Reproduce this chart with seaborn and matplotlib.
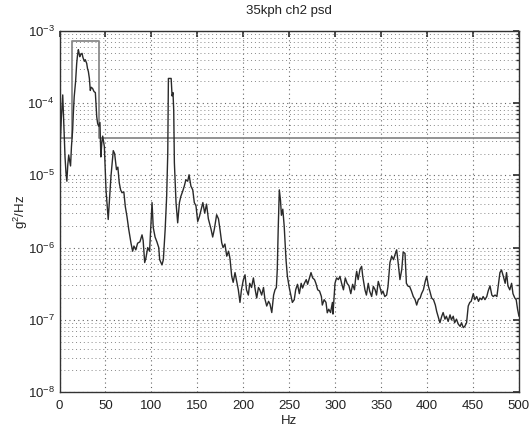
import matplotlib
matplotlib.use("Agg")
import matplotlib.pyplot as plt
import seaborn as sns
import pandas as pd
from matplotlib.ticker import LogLocator, NullFormatter

# ---- data ----
freq_hz = [1, 2, 3.5, 5, 6, 7, 8, 9, 10, 11, 12, 13, 14.3, 15, 16, 17.5, 18.7, 19.5, 20.5, 21.2,
           22, 23, 24.5, 25.5, 27, 28, 29.6, 30.5, 31.4, 32.5, 33.5, 34.5, 36, 37.5, 39, 40.5, 41.5,
           42.6, 44, 45, 46, 47, 48.8, 50.6, 52, 53, 54.5, 56, 57.5, 58.5, 60, 62, 63.5, 65, 66.5,
           68, 70, 71.6, 73.4, 75.3, 77.8, 79.6, 81, 83, 85, 87.5, 89.8, 91, 92.7, 94, 96, 98, 99.6,
           100.7, 102, 104, 106, 108, 109, 111.5, 113, 115, 116.6, 117.8, 118.5, 120, 121.5, 122.5,
           123.5, 124.3, 125, 126.8, 128.6, 130.5, 132, 134, 135.8, 137.5, 139.5, 141, 143, 145,
           146.7, 148.5, 150.4, 152.3, 154, 156, 158, 160, 162, 164.9, 166.7, 168.5, 171, 173,
           174.6, 176.5, 178, 180, 182, 184, 185.5, 187.4, 189, 191, 193, 194.6, 196.4, 198, 200,
           201.9, 203.5, 205.5, 207, 209, 211, 213, 214.6, 216.5, 218, 220, 222, 223.5, 225.5,
           227.5, 229, 231, 233, 234.5, 236, 237, 238, 239.2, 240.5, 241.5, 243, 244.5, 246.5, 248,
           250, 252, 253.4, 255.5, 257, 259, 261, 263, 264.5, 266.5, 268.5, 270, 272, 273.7, 275.5,
           277.5, 279, 281, 283, 285, 286, 288, 290, 291.4, 293, 295, 297, 297.6, 299.8, 301.5,
           303.5, 305.2, 307, 309, 311, 313, 315, 317, 319, 321, 322.5, 323.4, 325, 327, 328.8, 330,
           332.4, 334, 336, 337.5, 339.7, 341.5, 343.5, 345, 346.9, 348.5, 350.5, 352, 354, 356,
           357.5, 359.6, 361.5, 363.5, 365, 366.9, 368.5, 370.5, 372.5, 374, 376, 377.5, 379.5,
           381, 383, 385, 387, 388.7, 390.5, 392.5, 394, 396, 398, 399.6, 401.5, 403, 405, 407,
           409, 410.5, 412, 414, 416, 417.5, 419.5, 421, 423, 425, 426.5, 428.5, 430, 432, 434,
           436, 437.5, 439.4, 441, 443, 444.8, 446.5, 448, 450.3, 452, 454, 456, 457.5, 459.5, 461,
           463, 465, 466.5, 468.5, 470.5, 472, 474, 476, 477.5, 479.3, 481, 483, 485, 486.5, 488,
           490, 492, 493.5, 495.5, 497, 498.5, 500]

psd = [3.2e-5, 6.3e-5, 1.3e-4, 4.0e-5, 1.8e-5, 1.1e-5, 8.3e-6, 1.4e-5, 1.9e-5, 1.6e-5, 1.35e-5,
       2.5e-5, 4.3e-5, 7.1e-5, 1.23e-4, 2.0e-4, 3.55e-4, 4.5e-4, 5.5e-4, 5.0e-4,
       4.4e-4, 4.7e-4, 4.9e-4, 4.3e-4, 3.8e-4, 4.0e-4, 3.55e-4, 3.0e-4, 2.75e-4, 2.2e-4, 1.5e-4,
       1.66e-4, 1.6e-4, 1.45e-4, 1.4e-4, 6.5e-5, 5.2e-5,
       4.8e-5, 5.4e-5, 1.8e-5, 2.8e-5, 3.5e-5, 2.5e-5, 6.3e-6, 3.55e-6, 2.45e-6, 5.0e-6, 9.7e-6,
       1.6e-5, 2.2e-5, 2.0e-5, 1.2e-5, 1.3e-5, 7.9e-6, 6.3e-6,
       5.75e-6, 5.9e-6, 3.7e-6, 2.7e-6, 1.8e-6, 1.15e-6, 8.9e-7, 1.05e-6, 9.3e-7, 1.15e-6, 1.2e-6,
       1.5e-6, 1.26e-6, 6.2e-7, 7.1e-7, 1.0e-6, 8.9e-7, 2.2e-6,
       4.2e-6, 1.9e-6, 1.4e-6, 1.2e-6, 1.0e-6, 6.8e-7, 5.75e-7, 6.8e-7, 1.8e-6, 5.1e-6, 2.0e-5,
       2.2e-4, 2.2e-4, 2.2e-4, 1.26e-4,
       1.4e-4, 7.9e-5, 1.5e-5, 4.2e-6, 2.2e-6, 4.2e-6, 5.1e-6, 6.0e-6, 7.1e-6, 8.7e-6, 8.3e-6,
       1.02e-5, 7.1e-6, 6.3e-6,
       4.2e-6, 3.8e-6, 2.3e-6, 2.7e-6, 3.3e-6, 4.2e-6, 3.0e-6, 4.0e-6, 2.5e-6, 1.8e-6, 1.4e-6,
       1.8e-6, 2.85e-6, 2.5e-6,
       1.8e-6, 1.17e-6, 1.0e-6, 1.12e-6, 7.6e-7, 8.9e-7, 7.1e-7, 4.0e-7, 3.3e-7, 4.5e-7, 3.3e-7,
       2.6e-7, 1.74e-7, 2.6e-7, 3.55e-7,
       4.2e-7, 2.6e-7, 2.2e-7, 3.2e-7, 2.8e-7, 3.8e-7, 2.6e-7, 2.0e-7, 2.8e-7, 2.6e-7, 2.2e-7,
       2.8e-7, 1.95e-7, 1.55e-7,
       1.8e-7, 1.66e-7, 1.26e-7, 2.2e-7, 2.6e-7, 2.8e-7, 5.0e-7, 1.8e-6, 6.3e-6, 4.5e-6, 2.8e-6,
       3.4e-6, 2.0e-6, 6.8e-7, 4.0e-7,
       2.8e-7, 2.1e-7, 1.74e-7, 1.9e-7, 2.6e-7, 3.1e-7, 2.3e-7, 3.2e-7, 2.75e-7, 3.2e-7, 3.6e-7,
       3.1e-7, 3.8e-7, 4.5e-7, 3.8e-7,
       3.6e-7, 3.2e-7, 2.6e-7, 2.5e-7, 2.1e-7, 1.6e-7, 1.9e-7, 1.74e-7, 1.25e-7, 1.4e-7, 1.26e-7,
       1.74e-7, 1.2e-7, 3.2e-7, 3.8e-7,
       3.6e-7, 4.0e-7, 3.2e-7, 2.6e-7, 3.8e-7, 3.2e-7, 2.95e-7, 2.3e-7, 3.1e-7, 2.6e-7, 4.0e-7,
       4.7e-7, 3.6e-7, 5.0e-7, 5.5e-7, 4.0e-7,
       2.6e-7, 2.2e-7, 3.2e-7, 2.5e-7, 2.1e-7, 2.9e-7, 2.6e-7, 2.2e-7, 3.4e-7, 2.9e-7, 2.3e-7,
       2.5e-7, 2.1e-7, 2.2e-7,
       2.9e-7, 6.2e-7, 7.6e-7, 6.8e-7, 7.9e-7, 9.3e-7, 6.2e-7, 3.6e-7, 5.0e-7, 8.7e-7, 8.3e-7,
       3.2e-7, 2.9e-7,
       2.9e-7, 2.5e-7, 2.1e-7, 1.9e-7, 1.6e-7, 1.9e-7, 2.0e-7, 2.3e-7, 2.6e-7, 3.4e-7, 4.0e-7,
       2.9e-7, 2.5e-7, 2.0e-7, 1.9e-7,
       1.6e-7, 1.3e-7, 1.12e-7, 9.1e-8, 1.12e-7, 1.26e-7, 1.02e-7, 1.12e-7, 9.5e-8, 1.17e-7,
       1.0e-7, 1.12e-7, 9.1e-8, 1.02e-7, 8.7e-8,
       8.1e-8, 9.1e-8, 7.8e-8, 8.1e-8, 9.1e-8, 1.55e-7, 1.74e-7, 1.8e-7, 2.3e-7, 1.9e-7, 2.1e-7,
       1.8e-7, 2.0e-7, 1.9e-7, 2.1e-7,
       1.9e-7, 2.1e-7, 2.5e-7, 2.95e-7, 2.2e-7, 2.1e-7, 2.2e-7, 2.1e-7, 2.95e-7, 4.5e-7, 4.9e-7,
       4.0e-7, 3.2e-7, 4.5e-7, 2.95e-7,
       2.6e-7, 3.2e-7, 2.3e-7, 2.0e-7, 1.9e-7, 1.4e-7, 1.12e-7]

# spec mask (step profile)
mask_hz = [0, 13.6, 13.6, 43, 43, 500]
mask_level = [3.3e-5, 3.3e-5, 7.3e-4, 7.3e-4, 3.3e-5, 3.3e-5]

x_ticks = [0, 50, 100, 150, 200, 250, 300, 350, 400, 450, 500]

# ---- plotting ----
sns.set_theme(style="white")
plt.rcParams['font.family'] = ['Liberation Sans', 'DejaVu Sans']
plt.rcParams['mathtext.fontset'] = 'custom'
plt.rcParams['mathtext.rm'] = 'Liberation Sans'
plt.rcParams['mathtext.it'] = 'Liberation Sans'
plt.rcParams['mathtext.default'] = 'regular'

fig = plt.figure(figsize=(5.29, 4.30), dpi=100)
ax = fig.add_axes([0.1125, 0.0884, 0.8685, 0.8396])

df = pd.DataFrame({"Hz": freq_hz, "psd": psd})
dm = pd.DataFrame({"Hz": mask_hz, "level": mask_level})

sns.lineplot(data=dm, x="Hz", y="level", ax=ax, color="#8a8a8a", linewidth=1.3,
             sort=False, estimator=None)
sns.lineplot(data=df, x="Hz", y="psd", ax=ax, color="#2a2a2a", linewidth=1.0,
             sort=False, estimator=None)

ax.set_yscale("log")
ax.set_xlim(0, 500)
ax.set_ylim(1e-8, 1e-3)
ax.set_xticks(x_ticks)
ax.yaxis.set_major_locator(LogLocator(base=10, numticks=10))
ax.yaxis.set_minor_locator(LogLocator(base=10, subs=range(2, 10), numticks=100))
ax.yaxis.set_minor_formatter(NullFormatter())

ax.grid(True, which="major", axis="both", linestyle=(0, (1, 3)), color="#666666", linewidth=0.8)
ax.grid(True, which="minor", axis="y", linestyle=(0, (1, 3)), color="#888888", linewidth=0.7)

for s in ax.spines.values():
    s.set_visible(True)
    s.set_color("#333333")
    s.set_linewidth(1.0)

ax.tick_params(axis="both", which="both", direction="in", top=True, right=True,
               labelsize=9.5, colors="#333333", labelcolor="#222222")
ax.tick_params(which="major", length=4)
ax.tick_params(which="minor", length=2.5)
ax.tick_params(axis="x", which="major", pad=6)

ax.set_title("35kph ch2 psd", fontsize=9.5, color="#222222", pad=12)
ax.set_xlabel("Hz", fontsize=9.5, color="#222222", labelpad=2)
ax.set_ylabel(r"g$^2$/Hz", fontsize=9.5, color="#222222", labelpad=-2)

fig.savefig("out.png", dpi=100, facecolor="white")
